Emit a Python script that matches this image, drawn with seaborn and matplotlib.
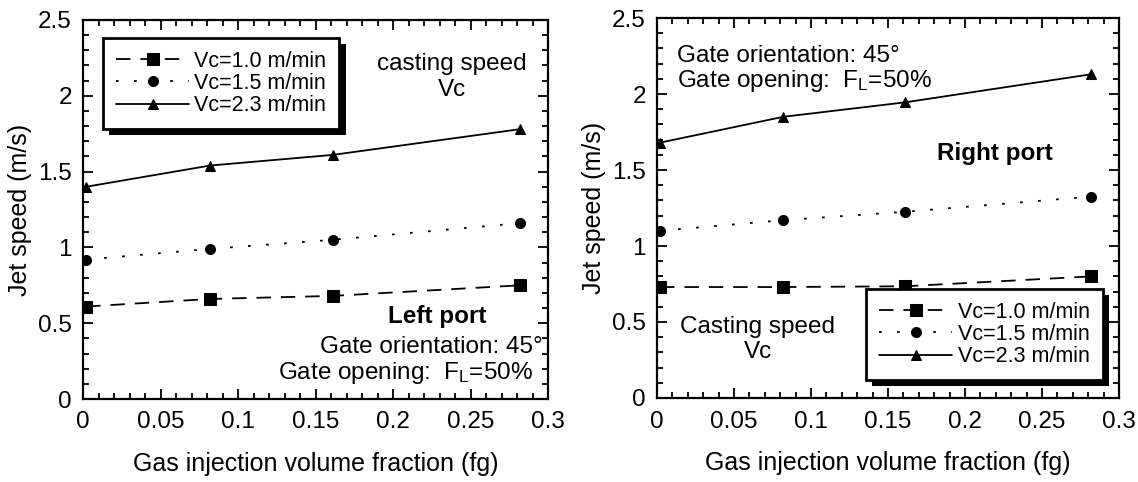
import numpy as np
import pandas as pd
import matplotlib
matplotlib.use("Agg")
import matplotlib.pyplot as plt
import matplotlib.patheffects as pe
from matplotlib.ticker import MultipleLocator, FuncFormatter
import seaborn as sns

# ---- data ----
fg = [0.002, 0.082, 0.161, 0.282]
labels = ["Vc=1.0 m/min", "Vc=1.5 m/min", "Vc=2.3 m/min"]
left_v10 = [0.61, 0.66, 0.68, 0.75]
left_v15 = [0.92, 0.99, 1.05, 1.16]
left_v23 = [1.40, 1.54, 1.61, 1.78]
right_v10 = [0.73, 0.73, 0.735, 0.80]
right_v15 = [1.10, 1.17, 1.225, 1.325]
right_v23 = [1.68, 1.85, 1.945, 2.13]
xticks = [0, 0.05, 0.1, 0.15, 0.2, 0.25, 0.3]
yticks = [0, 0.5, 1, 1.5, 2, 2.5]

sns.set_style("ticks")
plt.rcParams['font.family'] = ['Liberation Sans', 'DejaVu Sans']
plt.rcParams['mathtext.fontset'] = 'custom'
plt.rcParams['mathtext.rm'] = 'Liberation Sans'
plt.rcParams['mathtext.it'] = 'Liberation Sans'
plt.rcParams['text.color'] = 'k'
plt.rcParams['axes.labelcolor'] = 'k'
plt.rcParams['xtick.color'] = 'k'
plt.rcParams['ytick.color'] = 'k'
plt.rcParams['xtick.labelcolor'] = 'k'
plt.rcParams['ytick.labelcolor'] = 'k'

W, H = 1138, 482
fig = plt.figure(figsize=(W/100, H/100), dpi=100)
axL = fig.add_axes([83/W, (H-399)/H, 465/W, 379/H])
axR = fig.add_axes([657/W, (H-398)/H, 462/W, 380/H])

styles = [
    dict(marker='s', linestyle=(0, (8, 5.5)), markersize=8.5),
    dict(marker='o', linestyle=(0, (1.5, 8.5)), markersize=7.2),
    dict(marker='^', linestyle='-', markersize=7.2),
]

def fmt(v, pos):
    return f"{v:.2f}".rstrip('0').rstrip('.')

def draw(ax, series):
    for vals, lab, st in zip(series, labels, styles):
        df = pd.DataFrame({"fg": fg, "v": vals})
        sns.lineplot(data=df, x="fg", y="v", ax=ax, color='k', lw=1.3,
                     markeredgecolor='k', markerfacecolor='k', label=lab,
                     **st)
    ax.set_xlim(0, 0.3)
    ax.set_ylim(0, 2.5)
    ax.set_xticks(xticks)
    ax.set_yticks(yticks)
    ax.xaxis.set_minor_locator(MultipleLocator(0.01))
    ax.yaxis.set_minor_locator(MultipleLocator(0.1))
    ax.xaxis.set_major_formatter(FuncFormatter(fmt))
    ax.yaxis.set_major_formatter(FuncFormatter(fmt))
    ax.tick_params(which='both', direction='in', top=True, right=True,
                   labelsize=17.5, width=1.3, color='k', labelcolor='k')
    ax.tick_params(which='major', length=7.5)
    ax.tick_params(which='minor', length=4.2)
    ax.tick_params(axis='x', which='major', pad=9)
    ax.tick_params(axis='y', which='major', pad=8)
    for s in ax.spines.values():
        s.set_linewidth(1.6)
        s.set_color('k')
    ax.set_xlabel("Gas injection volume fraction (fg)", fontsize=18, labelpad=13, color='k')
    ax.set_ylabel("Jet speed (m/s)", fontsize=18, labelpad=4, color='k')

def legend(ax, **kw):
    leg = ax.legend(fontsize=15.5, frameon=True, fancybox=False,
                    handlelength=3.4, numpoints=1, labelspacing=0.05,
                    borderpad=0.6, handletextpad=0.25, borderaxespad=0, **kw)
    for t in leg.get_texts():
        t.set_color('k')
    fr = leg.get_frame()
    fr.set_edgecolor('k')
    fr.set_linewidth(2)
    fr.set_alpha(1)
    fr.set_path_effects([pe.SimplePatchShadow(offset=(4.5, -4.5), shadow_rgbFace='k', alpha=1),
                         pe.Normal()])
    return leg

draw(axL, [left_v10, left_v15, left_v23])
draw(axR, [right_v10, right_v15, right_v23])

legend(axL, loc='upper left', bbox_to_anchor=(0.043, 0.9525))
legend(axR, loc='lower right', bbox_to_anchor=(0.9645, 0.0474))

fs = 17.5
# annotations - left
axL.text(0.2379, 2.170, "casting speed", ha='center', va='baseline', fontsize=fs)
axL.text(0.2379, 2.001, "Vc", ha='center', va='baseline', fontsize=fs)
axL.text(0.2282, 0.499, "Left port", ha='center', va='baseline', fontsize=17.5, fontweight='bold')
axL.text(0.2968, 0.301, "Gate orientation: 45°", ha='right', va='baseline', fontsize=fs)
axL.text(0.2905, 0.131, "Gate opening:  F$_\\mathregular{L}$=50%", ha='right', va='baseline', fontsize=fs)

# annotations - right
axR.text(0.0129, 2.2125, "Gate orientation: 45°", ha='left', va='baseline', fontsize=fs)
axR.text(0.0129, 2.044, "Gate opening:  F$_\\mathregular{L}$=50%", ha='left', va='baseline', fontsize=fs)
axR.text(0.2193, 1.566, "Right port", ha='center', va='baseline', fontsize=17.5, fontweight='bold')
axR.text(0.0653, 0.4257, "Casting speed", ha='center', va='baseline', fontsize=fs)
axR.text(0.0653, 0.261, "Vc", ha='center', va='baseline', fontsize=fs)

fig.savefig("out.png", dpi=100, facecolor='white')
